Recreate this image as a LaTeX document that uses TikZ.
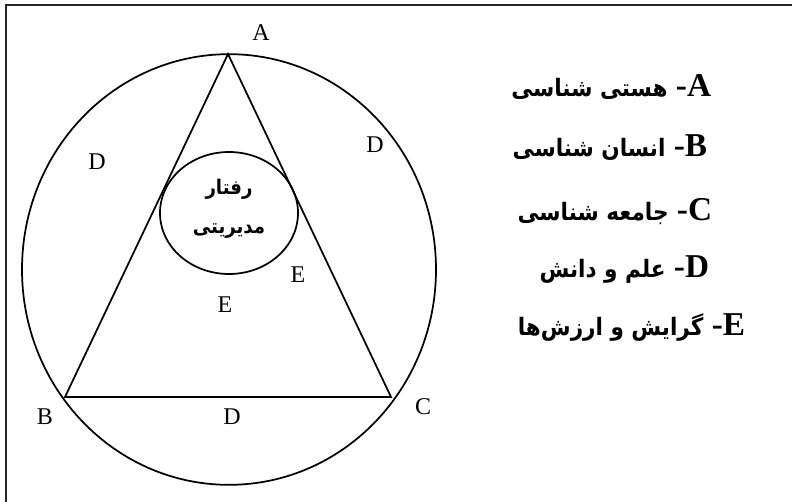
\documentclass[tikz,border=0pt]{standalone}
\usepackage{fontspec}
\setmainfont{Liberation Serif}
\newfontfamily\farsi[Script=Arabic,Scale=0.72]{DejaVu Sans Condensed}
\TeXXeTstate=1
\usetikzlibrary{shapes.geometric}

\begin{document}
\begin{tikzpicture}[x=0.75pt,y=-0.75pt,line width=1.3pt,
  lbl/.style={font=\fontsize{18}{20}\selectfont,inner sep=0pt},
  leg/.style={font=\fontsize{25}{28}\selectfont\rmfamily\bfseries,inner sep=0pt,anchor=east}]
\useasboundingbox (0,0) rectangle (792,502);
% frame
\draw[line width=1.5pt,black!85] (6,502) -- (6,5) -- (792,5);
% outer ellipse and triangle
\node[draw,ellipse,inner sep=0pt,minimum width=310.5pt,minimum height=323pt] (world) at (229,269.5) {};
\coordinate (A) at (228,54);
\coordinate (B) at (65,397);
\coordinate (C) at (391,397);
\draw (A) -- (B) -- (C) -- cycle;
% inner circle
\node[draw,ellipse,inner sep=0pt,minimum width=103.5pt,minimum height=91.5pt] (core) at (229,213) {};
\node[align=center,inner sep=0pt,font=\fontsize{21}{29}\selectfont\farsi\bfseries] (coretxt) at (229,209)
  {\beginR رفتار\endR\\ \beginR مدیریتی\endR};
% letters
\node[lbl] (la) at (261,33) {A};
\node[lbl] (lb) at (45,417) {B};
\node[lbl] (lc) at (423,407) {C};
\node[lbl] (d1) at (97,162) {D};
\node[lbl] (d2) at (375,145) {D};
\node[lbl] (d3) at (232,417) {D};
\node[lbl] (e1) at (298,275) {E};
\node[lbl] (e2) at (225,305) {E};
% legend
\node[leg] (ka) at (712,87) {\beginR\beginL A\endL\kern0pt-\ {\farsi هستی شناسی}\endR};
\node[leg] (kb) at (708,148) {\beginR\beginL B\endL\kern0pt-\ {\farsi انسان شناسی}\endR};
\node[leg] (kc) at (713,212) {\beginR\beginL C\endL\kern0pt-\ {\farsi جامعه شناسی}\endR};
\node[leg] (kd) at (710,270) {\beginR\beginL D\endL\kern0pt-\ {\farsi علم و دانش}\endR};
\node[leg] (ke) at (746,328) {\beginR\beginL E\endL\kern0pt-\ {\farsi گرایش و ارزش‌ها}\endR};
\end{tikzpicture}
\end{document}
